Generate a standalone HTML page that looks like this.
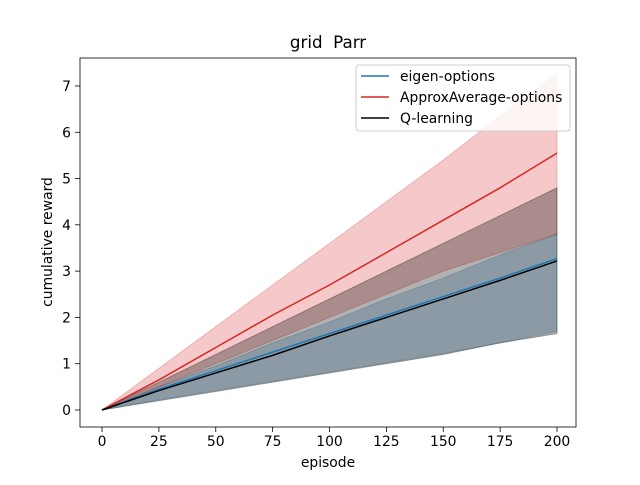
<!DOCTYPE html>
<html><head><meta charset="utf-8"><style>
body{margin:0;background:#fff;font-family:"Liberation Sans","DejaVu Sans",sans-serif}
svg text{font-family:"DejaVu Sans","Liberation Sans",sans-serif;fill:#000}
</style></head><body>
<svg id="chart" width="640" height="480" xmlns="http://www.w3.org/2000/svg">
<rect width="640" height="480" fill="#fff"/>
<g id="fills"></g><g id="lines"></g><g id="axes"></g>
</svg>
<script>
const episodes=[0,25,50,75,100,125,150,175,200];
const eigenMean=[0,0.45,0.85,1.25,1.65,2.05,2.45,2.85,3.27];
const eigenLow=[0,0.22,0.42,0.62,0.82,1.02,1.22,1.45,1.7];
const eigenHigh=[0,0.5,0.95,1.45,1.9,2.4,2.85,3.35,3.8];
const approxMean=[0,0.65,1.35,2.05,2.7,3.4,4.1,4.8,5.55];
const approxLow=[0,0.5,1.0,1.5,2.0,2.5,3.0,3.4,3.8];
const approxHigh=[0,0.9,1.8,2.7,3.6,4.5,5.4,6.35,7.25];
const qMean=[0,0.42,0.8,1.18,1.6,2.0,2.4,2.8,3.22];
const qLow=[0,0.2,0.4,0.6,0.8,1.0,1.2,1.45,1.65];
const qHigh=[0,0.6,1.2,1.8,2.4,3.0,3.6,4.2,4.8];
const xTicks=[0,25,50,75,100,125,150,175,200];
const yTicks=[0,1,2,3,4,5,6,7];
const NS="http://www.w3.org/2000/svg";
const X=v=>102+v*2.275, Y=v=>410-v*46.29;
function mk(t,a,p){const e=document.createElementNS(NS,t);for(const k in a)e.setAttribute(k,a[k]);p.appendChild(e);return e;}
const fills=document.getElementById('fills'),lines=document.getElementById('lines'),axes=document.getElementById('axes');
function band(lo,hi,col,op,name){
  let d=episodes.map((x,i)=>(i?'L':'M')+X(x)+','+Y(hi[i])).join('');
  for(let i=episodes.length-1;i>=0;i--)d+='L'+X(episodes[i])+','+Y(lo[i]);
  const p=mk('path',{d:d+'Z',fill:col,'fill-opacity':op,stroke:col,'stroke-opacity':op},fills);
  
  
}
function line(m,col,name){
  const p=mk('path',{d:episodes.map((x,i)=>(i?'L':'M')+X(x)+','+Y(m[i])).join(''),fill:'none',stroke:col,'stroke-width':1.5},lines);
  
  
}
band(eigenLow,eigenHigh,'#1f77b4',0.25,'eigen-band');
band(approxLow,approxHigh,'#d62728',0.25,'approx-band');
band(qLow,qHigh,'#000',0.3,'q-band');
line(eigenMean,'#1f77b4','eigen-line');
line(approxMean,'#d62728','approx-line');
line(qMean,'#000','q-line');
mk('rect',{x:80,y:58,width:496,height:369,fill:'none',stroke:'#000','stroke-width':0.8},axes);
xTicks.forEach(t=>{mk('line',{x1:X(t),x2:X(t),y1:427,y2:432,stroke:'#000','stroke-width':0.8},axes);
 const e=mk('text',{x:X(t),y:446,'font-size':13.9,'text-anchor':'middle'},axes);e.textContent=t;
 });
yTicks.forEach(t=>{mk('line',{x1:75,x2:80,y1:Y(t),y2:Y(t),stroke:'#000','stroke-width':0.8},axes);
 const e=mk('text',{x:71,y:Y(t)+5,'font-size':13.9,'text-anchor':'end'},axes);e.textContent=t;
 });
</script>
<svg style="position:absolute;left:0;top:0" width="640" height="480">
<text x="328" y="48" font-size="16.7" text-anchor="middle">grid&#160;&#160;Parr</text>
<text x="328" y="467" font-size="13.9" text-anchor="middle">episode</text>
<text x="52" y="242" font-size="13.9" text-anchor="middle" transform="rotate(-90 52 242)">cumulative reward</text>
<g>
<rect x="356" y="65" width="214" height="66" rx="3" fill="#fff" fill-opacity="0.8" stroke="#ccc"/>
<line x1="361" x2="389" y1="76" y2="76" stroke="#1f77b4" stroke-width="1.5"/>
<text x="400" y="81" font-size="13.9">eigen-options</text>
<line x1="361" x2="389" y1="97" y2="97" stroke="#d62728" stroke-width="1.5"/>
<text x="400" y="102" font-size="13.9">ApproxAverage-options</text>
<line x1="361" x2="389" y1="118" y2="118" stroke="#000" stroke-width="1.5"/>
<text x="400" y="123" font-size="13.9">Q-learning</text>
</g>
</svg>
</body></html>
